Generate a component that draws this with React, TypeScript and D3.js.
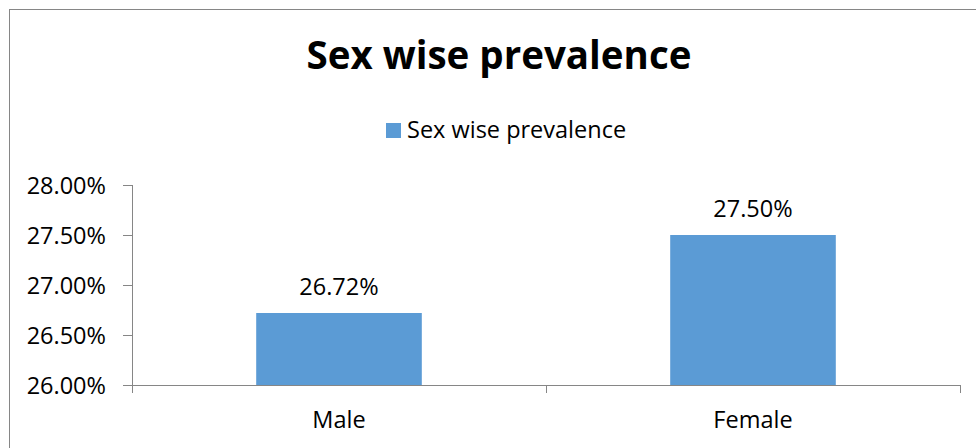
import React from "react";
import * as d3 from "d3";

const categories = ["Male", "Female"];
const values = [26.72, 27.5];
const seriesName = "Sex wise prevalence";
const title = "Sex wise prevalence";
const yTicks = [26, 26.5, 27, 27.5, 28];

const W = 976;
const H = 448;
const FONT = "'Open Sans', 'Noto Sans', sans-serif";
const BAR = "#5b9bd5";
const AXIS = "#868686";
const TEXT_SIZE = 23.5;

export default function App() {
  const plotLeft = 132;
  const plotRight = 960;
  const plotTop = 185;
  const plotBottom = 385;

  const y = d3.scaleLinear().domain([26, 28]).range([plotBottom, plotTop]);
  const x = d3
    .scaleBand<string>()
    .domain(categories)
    .range([plotLeft, plotRight])
    .paddingInner(0.6)
    .paddingOuter(0.3);
  const step = x.step();
  const fmt = (v: number) => v.toFixed(2) + "%";

  return (
    <svg
      width={W}
      height={H}
      style={{ position: "absolute", left: 0, top: 0, display: "block" }}
    >
      <rect x={0} y={0} width={W} height={H} fill="#fff" />
      {/* chart frame, continuing past the right and bottom edges */}
      <rect
        x={9.5}
        y={9.5}
        width={W + 20}
        height={H + 20}
        fill="none"
        stroke={AXIS}
        strokeWidth={1}
      />
      <text
        x={499}
        y={69}
        textAnchor="middle"
        fontFamily={FONT}
        fontWeight="bold"
        fontSize={38.5}
        fill="#000"
      >
        {title}
      </text>
      {/* legend */}
      <rect x={386} y={123} width={15} height={15} fill={BAR} />
      <text x={407} y={138} fontFamily={FONT} fontSize={TEXT_SIZE} fill="#000">
        {seriesName}
      </text>
      {/* bars */}
      {categories.map((c, i) => (
        <g key={c}>
          <rect
            x={x(c)}
            y={y(values[i])}
            width={x.bandwidth()}
            height={plotBottom - y(values[i])}
            fill={BAR}
          />
          <text
            x={(x(c) as number) + x.bandwidth() / 2}
            y={y(values[i]) - 18}
            textAnchor="middle"
            fontFamily={FONT}
            fontSize={TEXT_SIZE}
            fill="#000"
          >
            {fmt(values[i])}
          </text>
          <text
            x={(x(c) as number) + x.bandwidth() / 2}
            y={428}
            textAnchor="middle"
            fontFamily={FONT}
            fontSize={TEXT_SIZE}
            fill="#000"
          >
            {c}
          </text>
        </g>
      ))}
      {/* y axis */}
      <line
        x1={plotLeft + 0.5}
        x2={plotLeft + 0.5}
        y1={plotTop}
        y2={plotBottom + 8}
        stroke={AXIS}
      />
      {yTicks.map((t) => (
        <g key={t}>
          <line
            x1={plotLeft - 9}
            x2={plotLeft}
            y1={Math.round(y(t)) + 0.5}
            y2={Math.round(y(t)) + 0.5}
            stroke={AXIS}
          />
          <text
            x={106}
            y={y(t) + 8.5}
            textAnchor="end"
            fontFamily={FONT}
            fontSize={TEXT_SIZE}
            fill="#000"
          >
            {fmt(t)}
          </text>
        </g>
      ))}
      {/* x axis */}
      <line
        x1={plotLeft}
        x2={plotRight}
        y1={plotBottom + 0.5}
        y2={plotBottom + 0.5}
        stroke={AXIS}
      />
      {categories.map((c, i) => {
        const xt = Math.round(plotLeft + step * (i + 1)) + 0.5;
        return (
          <line
            key={c}
            x1={xt}
            x2={xt}
            y1={plotBottom}
            y2={plotBottom + 8}
            stroke={AXIS}
          />
        );
      })}
    </svg>
  );
}
